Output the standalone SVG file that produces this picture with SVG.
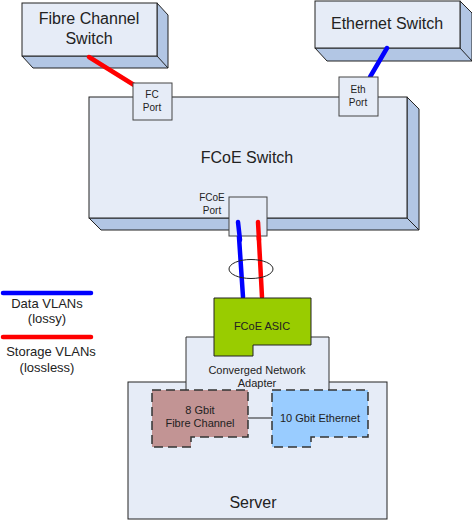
<svg xmlns="http://www.w3.org/2000/svg" width="472" height="520" viewBox="0 0 472 520">
<style>
.front{fill:#e6ecf7;stroke:#222;stroke-width:1}
.side{fill:#b2c6e4;stroke:#222;stroke-width:1}
.port{fill:#e6ecf7;stroke:#444;stroke-width:1}
.t{font-family:"Liberation Sans",Arial,sans-serif;fill:#222;text-anchor:middle}
.big{font-size:16px}
.sm{font-size:10px}
.md{font-size:11px}
.lg{font-size:13px}
.red{stroke:#ff0000;stroke-width:4.5;stroke-linecap:round;fill:none}
.blue{stroke:#0000ff;stroke-width:4.5;stroke-linecap:round;fill:none}
.dash{stroke:#333;stroke-width:1.5;stroke-dasharray:9,5}
</style>
<rect width="472" height="520" fill="#fff"/>

<g id="fc-switch">
<polygon class="side" points="157,3 168,15 168,68 33,68 22,56 157,56"/>
<rect class="front" x="22" y="3" width="135" height="53"/>
<line x1="157" y1="56" x2="168" y2="68" stroke="#222"/>
<text class="t big" x="89" y="24">Fibre Channel</text>
<text class="t big" x="89" y="44">Switch</text>
</g>

<g id="eth-switch">
<polygon class="side" points="460,1 472,13 472,61 327,61 315,48 460,48"/>
<rect class="front" x="315" y="1" width="145" height="47"/>
<line x1="460" y1="48" x2="472" y2="61" stroke="#222"/>
<text class="t big" x="387" y="29">Ethernet Switch</text>
</g>

<g id="fcoe-switch">
<polygon class="side" points="407,97 419,109 419,230 101,230 89,218 407,218"/>
<rect class="front" x="89" y="97" width="318" height="121"/>
<line x1="407" y1="218" x2="419" y2="230" stroke="#222"/>
<text class="t big" x="247" y="163">FCoE Switch</text>
</g>

<g id="server">
<rect class="front" x="128" y="382" width="259" height="137"/>
<text class="t big" x="253" y="508">Server</text>
</g>

<g id="cna">
<rect x="186" y="337" width="143" height="60" fill="#e6ecf7"/>
<path d="M186,397 V337 H329 V397" fill="none" stroke="#333" stroke-width="1"/>
<text class="t md" x="257" y="374">Converged Network</text>
<text class="t md" x="257" y="387">Adapter</text>
</g>

<g id="connectors">
<line x1="248" y1="418" x2="272" y2="418" stroke="#222" stroke-width="1"/>
<line class="red" x1="89" y1="57" x2="134" y2="85"/>
<line class="blue" x1="387" y1="48" x2="370" y2="77"/>
<line class="blue" x1="238" y1="222" x2="243" y2="297"/>
<line class="red" x1="258" y1="222" x2="262" y2="297"/>
<ellipse cx="251" cy="269" rx="22" ry="9.5" fill="none" stroke="#222" stroke-width="1"/>
</g>

<g id="fc-port">
<rect class="port" x="133" y="83" width="39" height="37"/>
<text class="t sm" x="152" y="98">FC</text>
<text class="t sm" x="152" y="111">Port</text>
</g>

<g id="eth-port">
<rect class="port" x="339" y="77" width="39" height="39"/>
<text class="t sm" x="358" y="93">Eth</text>
<text class="t sm" x="358" y="106">Port</text>
</g>

<g id="fcoe-port">
<rect class="port" x="229" y="197" width="38" height="39"/>
<text class="t sm" x="212" y="201">FCoE</text>
<text class="t sm" x="212" y="214">Port</text>
</g>

<g id="fcoe-lines-top">
<line class="blue" x1="238" y1="222" x2="240" y2="240"/>
<line class="red" x1="258" y1="222" x2="259" y2="240"/>
</g>

<g id="fcoe-asic">
<polygon points="214,298 311,298 311,345 253,345 253,356 214,356" fill="#99cc00" stroke="#222" stroke-width="1"/>
<text class="t md" x="262" y="330">FCoE ASIC</text>
</g>

<g id="fc-card">
<polygon class="dash" points="152,390 248,390 248,437 191,437 191,447 152,447" fill="#c29494"/>
<text class="t md" x="200" y="414">8 Gbit</text>
<text class="t md" x="200" y="427">Fibre Channel</text>
</g>

<g id="eth-card">
<polygon class="dash" points="272,390 368,390 368,437 311,437 311,447 272,447" fill="#99ccff"/>
<text class="t md" x="320" y="422">10 Gbit Ethernet</text>
</g>

<g id="legend">
<line class="blue" x1="3" y1="293" x2="91" y2="293"/>
<text class="t lg" x="47" y="308">Data VLANs</text>
<text class="t lg" x="47" y="323">(lossy)</text>
<line class="red" x1="3" y1="337" x2="91" y2="337"/>
<text class="t lg" x="51" y="356">Storage VLANs</text>
<text class="t lg" x="47" y="372">(lossless)</text>
</g>
</svg>
